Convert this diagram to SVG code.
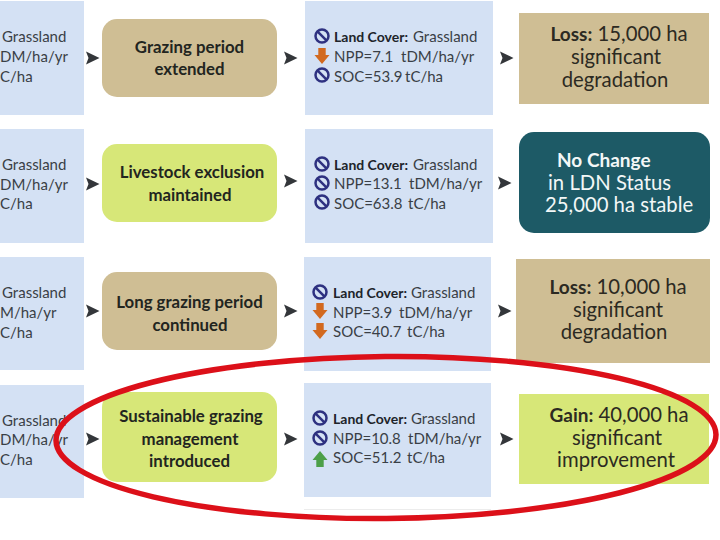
<svg xmlns="http://www.w3.org/2000/svg" width="720" height="540" viewBox="0 0 720 540">
<style>
text{font-family:"Lato","Noto Sans",sans-serif;fill:#2a2a2a}
.blue{fill:#d4e1f4}.tan{fill:#cfbe94}.lime{fill:#d7e778}.teal{fill:#1d5a66}
.s{font-size:15px;fill:#3a3f46}
.sb{font-weight:700;font-size:14px;fill:#20242a}
.p{font-size:16.800px;font-weight:700;text-anchor:middle;fill:#22251f}
.r{font-size:20.300px;text-anchor:middle;fill:#2c2a22}
.rb{font-weight:700;font-size:19px}
.w{fill:#f2f7f7;font-size:20.300px}
.wb{font-weight:700;font-size:19px}
.arr{fill:#33363a}
.no{fill:none;stroke:#2e3180;stroke-width:2.500}
.dn{fill:#d2691f}.up{fill:#4c9f48}
</style>
<defs>
<path id="a" d="M0-6.500L13.500 0L0 6.500L2.500 0Z"/>
<g id="n"><circle r="6.500" class="no"/><path d="M-4.600-4.600L4.600 4.600" class="no"/></g>
<path id="d" class="dn" d="M-3.700-8H3.700V-1H7.500L0 8L-7.500-1H-3.700Z"/>
<path id="u" class="up" d="M-3.700 8H3.700V1H7.500L0-8L-7.500 1H-3.700Z"/>
</defs>
<rect width="720" height="540" fill="#fff"/>
<path d="M304 509.500H491" stroke="#ececec" fill="none"/>
<g id="row1">
<g id="baseline1"><rect class="blue" x="0" y="1" width="84" height="114"/><text class="s" x="2" y="42">Grassland</text><text class="s" x="0" y="62">DM/ha/yr</text><text class="s" x="0" y="82">C/ha</text></g>
<g id="action1"><rect class="tan" x="102" y="19" width="175" height="78" rx="15"/><text class="p" x="189.500" y="53">Grazing period</text><text class="p" x="189.500" y="75">extended</text></g>
<g id="result1"><rect class="blue" x="305" y="1" width="188" height="114"/><use href="#n" x="322" y="36"/><use href="#d" x="322" y="56"/><use href="#n" x="322" y="75"/><text class="s" x="334" y="42"><tspan class="sb">Land Cover:</tspan><tspan x="413">Grassland</tspan></text><text class="s" x="334" y="62">NPP=7.1<tspan x="401">tDM/ha/yr</tspan></text><text class="s" x="334" y="82">SOC=53.9<tspan x="405">tC/ha</tspan></text></g>
<g id="status1"><rect class="tan" x="519" y="13" width="190" height="91"/><text class="r" x="619" y="41"><tspan class="rb">Loss:</tspan> 15,000 ha</text><text class="r" x="616" y="64">significant</text><text class="r" x="615" y="87">degradation</text></g>
</g>
<g id="row2">
<g id="baseline2"><rect class="blue" x="0" y="129" width="84" height="114"/><text class="s" x="2" y="170">Grassland</text><text class="s" x="0" y="190">DM/ha/yr</text><text class="s" x="0" y="209">C/ha</text></g>
<g id="action2"><rect class="lime" x="102" y="144" width="175" height="78" rx="15"/><text class="p" x="192" y="178">Livestock exclusion</text><text class="p" x="190" y="201">maintained</text></g>
<g id="result2"><rect class="blue" x="305" y="129" width="188" height="114"/><use href="#n" x="322" y="164"/><use href="#n" x="322" y="183"/><use href="#n" x="322" y="202"/><text class="s" x="334" y="170"><tspan class="sb">Land Cover:</tspan><tspan x="413">Grassland</tspan></text><text class="s" x="334" y="189">NPP=13.1<tspan x="409">tDM/ha/yr</tspan></text><text class="s" x="334" y="209">SOC=63.8<tspan x="408">tC/ha</tspan></text></g>
<g id="status2"><rect class="teal" x="519" y="132" width="191" height="101" rx="15"/><text class="w wb" x="557" y="167">No Change</text><text class="w" x="548" y="190">in LDN Status</text><text class="w" x="545" y="212">25,000 ha stable</text></g>
</g>
<g id="row3">
<g id="baseline3"><rect class="blue" x="0" y="257" width="84" height="113"/><text class="s" x="2" y="298">Grassland</text><text class="s" x="0" y="318">M/ha/yr</text><text class="s" x="0" y="338">C/ha</text></g>
<g id="action3"><rect class="tan" x="102" y="272" width="175" height="78" rx="15"/><text class="p" x="189.500" y="308">Long grazing period</text><text class="p" x="190" y="331">continued</text></g>
<g id="result3"><rect class="blue" x="304" y="257" width="187" height="114"/><use href="#n" x="320" y="292"/><use href="#d" x="320" y="311"/><use href="#d" x="320" y="331"/><text class="s" x="333" y="298"><tspan class="sb">Land Cover:</tspan><tspan x="411">Grassland</tspan></text><text class="s" x="333" y="318">NPP=3.9<tspan x="399">tDM/ha/yr</tspan></text><text class="s" x="333" y="337">SOC=40.7<tspan x="407">tC/ha</tspan></text></g>
<g id="status3"><rect class="tan" x="516" y="259" width="194" height="104"/><text class="r" x="618" y="294"><tspan class="rb">Loss:</tspan> 10,000 ha</text><text class="r" x="618" y="317">significant</text><text class="r" x="614" y="339">degradation</text></g>
</g>
<g id="row4">
<g id="baseline4"><rect class="blue" x="0" y="385" width="84" height="113"/><text class="s" x="2" y="426">Grassland</text><text class="s" x="0" y="445">DM/ha/yr</text><text class="s" x="0" y="465">C/ha</text></g>
<g id="action4"><rect class="lime" x="102" y="392" width="175" height="90" rx="15"/><text class="p" x="191" y="422">Sustainable grazing</text><text class="p" x="190" y="445">management</text><text class="p" x="189.500" y="467">introduced</text></g>
<g id="result4"><rect class="blue" x="304" y="383" width="187" height="114"/><use href="#n" x="320" y="418"/><use href="#n" x="320" y="438"/><use href="#u" x="320" y="459"/><text class="s" x="333" y="424"><tspan class="sb">Land Cover:</tspan><tspan x="411">Grassland</tspan></text><text class="s" x="333" y="444">NPP=10.8<tspan x="408">tDM/ha/yr</tspan></text><text class="s" x="333" y="463">SOC=51.2<tspan x="407">tC/ha</tspan></text></g>
<g id="status4"><rect class="lime" x="519" y="394" width="190" height="90"/><text class="r" x="619" y="422"><tspan class="rb">Gain:</tspan> 40,000 ha</text><text class="r" x="617" y="445">significant</text><text class="r" x="616" y="467">improvement</text></g>
</g>
<g id="connectors" class="arr">
<use href="#a" x="86" y="58"/><use href="#a" x="284" y="58"/><use href="#a" x="500" y="58"/>
<use href="#a" x="86" y="184"/><use href="#a" x="284" y="181"/><use href="#a" x="498" y="183"/>
<use href="#a" x="86" y="311"/><use href="#a" x="284" y="311"/><use href="#a" x="498" y="311"/>
<use href="#a" x="86" y="439"/><use href="#a" x="284" y="439"/><use href="#a" x="500" y="439"/>
</g>
<ellipse id="highlight" cx="386" cy="437.500" rx="330" ry="81" transform="rotate(-0.5 386 437.500)" fill="none" stroke="#dc1019" stroke-width="5.500"/>
</svg>
